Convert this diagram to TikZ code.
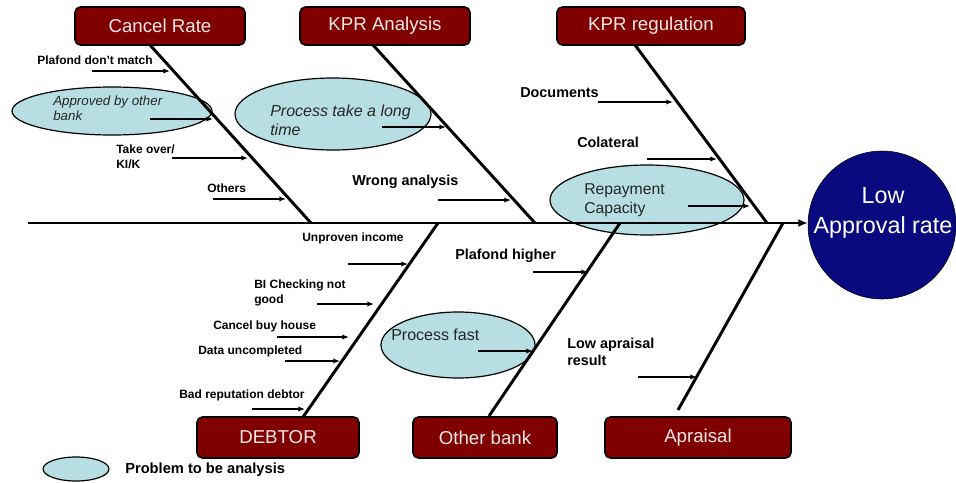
\documentclass[tikz,border=0pt]{standalone}
\usepackage{fontspec}
\setmainfont{Liberation Sans}
\usetikzlibrary{shapes.geometric,arrows.meta}

\definecolor{boxred}{RGB}{128,0,0}
\definecolor{boxtext}{RGB}{245,232,232}
\definecolor{probfill}{RGB}{183,223,227}
\definecolor{effblue}{RGB}{10,10,128}

\tikzset{
  catbox/.style={draw=black, line width=1.2pt, fill=boxred, rounded corners=4pt,
    text=boxtext, font=\fontsize{14}{16}\selectfont, inner sep=0pt},
  problem/.style={ellipse, draw=black, line width=0.9pt, fill=probfill, inner sep=0pt},
  probtext/.style={anchor=west, align=left, inner sep=0pt, text=black!85},
  bone/.style={line width=2.2pt},
  spine/.style={line width=2.2pt, -{Latex[length=7pt,width=6pt]}},
  cause/.style={line width=1pt, -{Latex[length=5pt,width=4pt]}},
  small/.style={anchor=west, align=left, inner sep=0pt, font=\bfseries\fontsize{9}{11}\selectfont},
  big/.style={anchor=west, align=left, inner sep=0pt, font=\bfseries\fontsize{10.8}{13}\selectfont},
}

\begin{document}
\begin{tikzpicture}[x=0.75pt, y=-0.75pt]
\useasboundingbox (0,0) rectangle (956,482);

% problems to be analysed
\node[problem, minimum width=150pt, minimum height=36pt] (approved) at (112,111) {};
\node[problem, minimum width=147pt, minimum height=54pt] (longtime) at (333,114) {};
\node[problem, minimum width=145.5pt, minimum height=52.5pt] (repay) at (647,200) {};
\node[problem, minimum width=115.5pt, minimum height=49.5pt] (fast) at (458,345) {};
\node[problem, minimum width=49.5pt, minimum height=18pt] (legend) at (76,469) {};

% categories
\node[catbox, minimum width=127.5pt, minimum height=28.5pt] (cancel) at (160,26) {Cancel Rate};
\node[catbox, minimum width=127.5pt, minimum height=28.5pt] (analysis) at (385,26) {KPR Analysis};
\node[catbox, minimum width=141pt, minimum height=28.5pt] (regul) at (651,26) {KPR regulation};
\node[catbox, minimum width=121.5pt, minimum height=30.75pt] (debtor) at (278,437.5) {DEBTOR};
\node[catbox, minimum width=108pt, minimum height=30.75pt] (other) at (485,437.5) {Other bank};
\node[catbox, minimum width=139.5pt, minimum height=30.75pt] (apraisal) at (698,437.5) {Apraisal};

% effect
\node[circle, draw=black, fill=effblue, minimum size=111pt] (eff) at (882,225) {};
\node[align=center, text=white, inner sep=0pt, font=\fontsize{17.5}{22.5}\selectfont] (efftext) at (883,213) {Low\\Approval rate};

% spine and bones
\coordinate (tail) at (28,223);
\draw[spine] (tail) -- (tail -| eff.west);
\coordinate (cancelT) at (150,45);   \coordinate (cancelS) at (311,223);
\coordinate (analysisT) at (373,45); \coordinate (analysisS) at (535,223);
\coordinate (regulT) at (635,45);    \coordinate (regulS) at (767,223);
\coordinate (debtorT) at (303,417);  \coordinate (debtorS) at (438,223);
\coordinate (otherT) at (489,416);   \coordinate (otherS) at (620,223);
\coordinate (apraisalT) at (678,410); \coordinate (apraisalS) at (783,223);
\draw[bone] (cancelT) -- (cancelS);
\draw[bone] (analysisT) -- (analysisS);
\draw[bone] (regulT) -- (regulS);
\draw[bone] (debtorT) -- (debtorS);
\draw[bone] (otherT) -- (otherS);
\draw[bone] (apraisalT) -- (apraisalS);

% causes
\coordinate (a1) at (92,71);   \coordinate (a1t) at (170,71);
\coordinate (a2) at (150,119); \coordinate (a2t) at (213,119);
\coordinate (a3) at (172,158); \coordinate (a3t) at (248,158);
\coordinate (a4) at (213,199); \coordinate (a4t) at (286,199);
\coordinate (b1) at (382,127); \coordinate (b1t) at (446,127);
\coordinate (b2) at (438,200); \coordinate (b2t) at (511,200);
\coordinate (c1) at (598,102); \coordinate (c1t) at (673,102);
\coordinate (c2) at (647,159); \coordinate (c2t) at (717,159);
\coordinate (c3) at (688,206); \coordinate (c3t) at (750,206);
\coordinate (d1) at (348,264); \coordinate (d1t) at (408,264);
\coordinate (d2) at (317,304); \coordinate (d2t) at (374,304);
\coordinate (d3) at (277,337); \coordinate (d3t) at (349,337);
\coordinate (d4) at (285,361); \coordinate (d4t) at (340,361);
\coordinate (d5) at (252,409); \coordinate (d5t) at (305,409);
\coordinate (e1) at (533,272); \coordinate (e1t) at (588,272);
\coordinate (e2) at (478,351); \coordinate (e2t) at (533,351);
\coordinate (f1) at (638,377); \coordinate (f1t) at (697,377);
\draw[cause] (a1) -- (a1t);
\draw[cause] (a2) -- (a2t);
\draw[cause] (a3) -- (a3t);
\draw[cause] (a4) -- (a4t);
\draw[cause] (b1) -- (b1t);
\draw[cause] (b2) -- (b2t);
\draw[cause] (c1) -- (c1t);
\draw[cause] (c2) -- (c2t);
\draw[cause] (c3) -- (c3t);
\draw[cause] (d1) -- (d1t);
\draw[cause] (d2) -- (d2t);
\draw[cause] (d3) -- (d3t);
\draw[cause] (d4) -- (d4t);
\draw[cause] (d5) -- (d5t);
\draw[cause] (e1) -- (e1t);
\draw[cause] (e2) -- (e2t);
\draw[cause] (f1) -- (f1t);

% labels
\node[small] (plafmatch) at (37,60) {Plafond don't match};
\node[probtext, font=\itshape\fontsize{10}{11.25}\selectfont] (approvedtxt) at (53,108) {Approved by other\\bank};
\node[small] (takeover) at (116,157) {Take over/\\KI/K};
\node[small] (others) at (207,188) {Others};
\node[probtext, font=\itshape\fontsize{12}{14.25}\selectfont] (longtimetxt) at (270,120) {Process take a long\\time};
\node[big] (wrong) at (352,182) {Wrong analysis};
\node[big] (docs) at (520,93) {Documents};
\node[big] (colat) at (577,142) {Colateral};
\node[probtext, font=\fontsize{11.8}{14.25}\selectfont] (repaytxt) at (584,200) {Repayment\\Capacity};
\node[small] (income) at (302,238) {Unproven income};
\node[small] (bicheck) at (254,293) {BI Checking not\\good};
\node[small] (cancelbuy) at (213,326) {Cancel buy house};
\node[small] (datauncomp) at (198,351) {Data uncompleted};
\node[small] (badrep) at (179,395) {Bad reputation debtor};
\node[big] (plafhigh) at (455,256) {Plafond higher};
\node[probtext, font=\fontsize{12}{14.25}\selectfont] (fasttxt) at (391,335) {Process fast};
\node[big] (lowapr) at (567,352) {Low apraisal\\result};
\node[anchor=west, inner sep=0pt, font=\bfseries\fontsize{11}{13}\selectfont] (legtext) at (125,470) {Problem to be analysis};
\end{tikzpicture}
\end{document}
